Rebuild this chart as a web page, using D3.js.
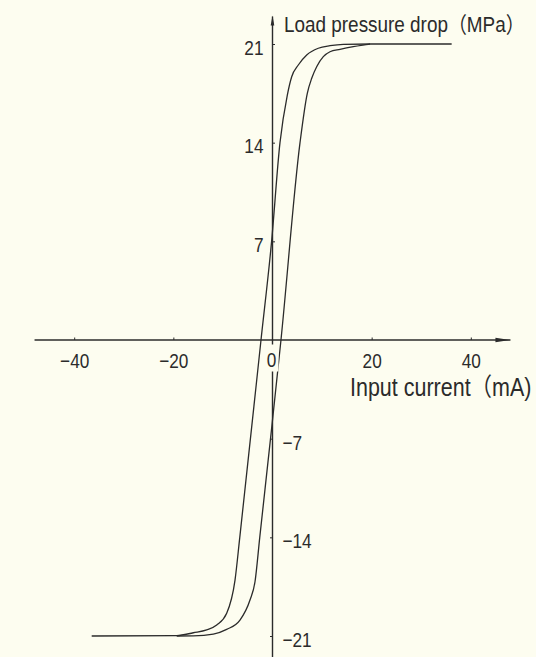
<!DOCTYPE html>
<html>
<head>
<meta charset="utf-8">
<script src="https://cdn.jsdelivr.net/npm/d3@7"></script>
<style>
  html, body { margin: 0; padding: 0; background: #fdfdf0; }
  svg { display: block; }
</style>
</head>
<body>
<svg id="chart" width="536" height="657"></svg>
<script>
// Axis ticks and titles
const xTickValues = [-40, -20, 0, 20, 40];
const yTickPositive = [7, 14, 21];
const yTickNegative = [-7, -14, -21];
const xTitle = "Input current（mA)";
const yTitle = "Load pressure drop（MPa）";
// Axis line extents in data units (lines run past the outer ticks)
const xAxisExtent = [-48, 48];
const yAxisExtent = [-23.5, 22.95];

// Hysteresis loop, branch passing through the upper-left side (current rising)
const risingCurrent = [-36.47, -19.32, -15.97, -13.27, -11.25, -9.24, -7.56, -6.6, -2.32, -0.18, 1.51, 2.99, 3.87, 5.20, 6.90, 9.24, 11.60, 14.28, 19.67, 36.14];
const risingPressure = [-21.0, -20.97, -20.77, -20.57, -20.22, -19.39, -17.03, -14.0, 0, 7.0, 14.0, 17.38, 18.68, 19.51, 20.22, 20.70, 20.88, 20.98, 21.0, 21.0];

// Branch passing through the lower-right side (current falling)
const fallingCurrent = [-19.32, -15.97, -11.94, -9.24, -6.56, -4.54, -3.53, -2.57, -0.4, 1.71, 5.55, 7.02, 7.91, 8.91, 10.25, 11.60, 13.62, 16.30, 19.32, 19.67];
const fallingPressure = [-21.0, -20.99, -20.86, -20.53, -19.87, -18.45, -17.15, -14.0, -7.0, 0, 14.0, 17.50, 18.57, 19.39, 20.10, 20.45, 20.62, 20.81, 20.98, 21.0];

const W = 536, H = 657;
const bg = "#fdfdf0";
const ink = "#2b2b2b";
const fontFamily = "'Liberation Sans', Arial, 'Noto Sans CJK SC', sans-serif";
const squeeze = 0.82;

const svg = d3.select("#chart");
svg.append("rect").attr("width", W).attr("height", H).attr("fill", bg);

const x = d3.scaleLinear().domain([-40, 40]).range([74.2, 470.8]);
const y = d3.scaleLinear().domain([-21, 21]).range([636, 44]);

const x0 = x(0), y0 = y(0);

// Axis lines
svg.append("line")
  .attr("x1", x(xAxisExtent[0])).attr("x2", x(xAxisExtent[1]))
  .attr("y1", y0).attr("y2", y0)
  .attr("stroke", ink).attr("stroke-width", 1.4);
svg.append("line")
  .attr("x1", x0).attr("x2", x0)
  .attr("y1", y(yAxisExtent[0])).attr("y2", y(yAxisExtent[1]))
  .attr("stroke", ink).attr("stroke-width", 1.4);

// Slender arrowheads
const xTip = x(xAxisExtent[1]);
svg.append("path")
  .attr("d", `M${xTip},${y0} L${xTip - 15},${y0 - 2.2} L${xTip - 15},${y0 + 2.2} Z`)
  .attr("fill", ink);
const yTip = y(yAxisExtent[1]);
svg.append("path")
  .attr("d", `M${x0},${yTip - 1} L${x0 - 1.8},${yTip + 9} L${x0 + 1.8},${yTip + 9} Z`)
  .attr("fill", ink);

// Curves
const line = d3.line().x(d => x(d[0])).y(d => y(d[1])).curve(d3.curveMonotoneX);
const rising = d3.zip(risingCurrent, risingPressure);
const falling = d3.zip(fallingCurrent, fallingPressure);
[rising, falling].forEach(pts => {
  svg.append("path").datum(pts)
    .attr("d", line)
    .attr("fill", "none")
    .attr("stroke", ink)
    .attr("stroke-width", 1.3)
    .attr("stroke-linejoin", "round");
});

// X axis ticks (pointing up) and labels below
const xAxis = d3.axisBottom(x).tickValues(xTickValues).tickSize(-2.5).tickSizeOuter(0);
const gx = svg.append("g").attr("transform", `translate(0,${y0})`).call(xAxis);
gx.select(".domain").remove();
gx.selectAll(".tick line").attr("stroke", ink).attr("stroke-width", 1);
gx.selectAll(".tick text")
  .attr("y", null).attr("dy", null)
  .attr("transform", `translate(0,27.7) scale(${squeeze},1)`)
  .attr("fill", ink).attr("font-family", fontFamily).attr("font-size", 21)
  .attr("text-anchor", "middle");

// Knock the vertical axis out behind the "0" label
gx.selectAll(".tick").filter(d => d === 0).each(function () {
  const g = d3.select(this);
  g.select("line").remove();
  g.insert("rect", "text")
    .attr("x", -5.5).attr("y", 4.5).attr("width", 11).attr("height", 27)
    .attr("fill", bg);
  g.select("text").attr("transform", `translate(-1.5,26.7) scale(${squeeze},1)`);
});

// Y axis: positive values labelled on the left, negative on the right
const yAxisPos = d3.axisLeft(y).tickValues(yTickPositive).tickSize(-2.5).tickSizeOuter(0);
const gyp = svg.append("g").attr("transform", `translate(${x0},0)`).call(yAxisPos);
gyp.select(".domain").remove();
gyp.selectAll(".tick line").attr("stroke", ink).attr("stroke-width", 1);
gyp.selectAll(".tick text")
  .attr("x", null).attr("dy", null)
  .attr("transform", `translate(-9,10.3) scale(${squeeze},1)`)
  .attr("fill", ink).attr("font-family", fontFamily).attr("font-size", 21)
  .attr("text-anchor", "end");

const yAxisNeg = d3.axisRight(y).tickValues(yTickNegative).tickSize(-2.5).tickSizeOuter(0);
const gyn = svg.append("g").attr("transform", `translate(${x0},0)`).call(yAxisNeg);
gyn.select(".domain").remove();
gyn.selectAll(".tick line").attr("stroke", ink).attr("stroke-width", 1);
gyn.selectAll(".tick text")
  .attr("x", null).attr("dy", null)
  .attr("transform", `translate(10,10.5) scale(${squeeze},1)`)
  .attr("fill", ink).attr("font-family", fontFamily).attr("font-size", 21)
  .attr("text-anchor", "start");

// Axis titles
svg.append("text")
  .attr("transform", `translate(${x0 + 11.5},32) scale(0.86,1)`)
  .attr("fill", ink).attr("font-family", fontFamily).attr("font-size", 22)
  .text(yTitle);
svg.append("text")
  .attr("transform", `translate(${x0 + 77.5},396) scale(0.86,1)`)
  .attr("fill", ink).attr("font-family", fontFamily).attr("font-size", 25)
  .text(xTitle);
</script>
</body>
</html>
